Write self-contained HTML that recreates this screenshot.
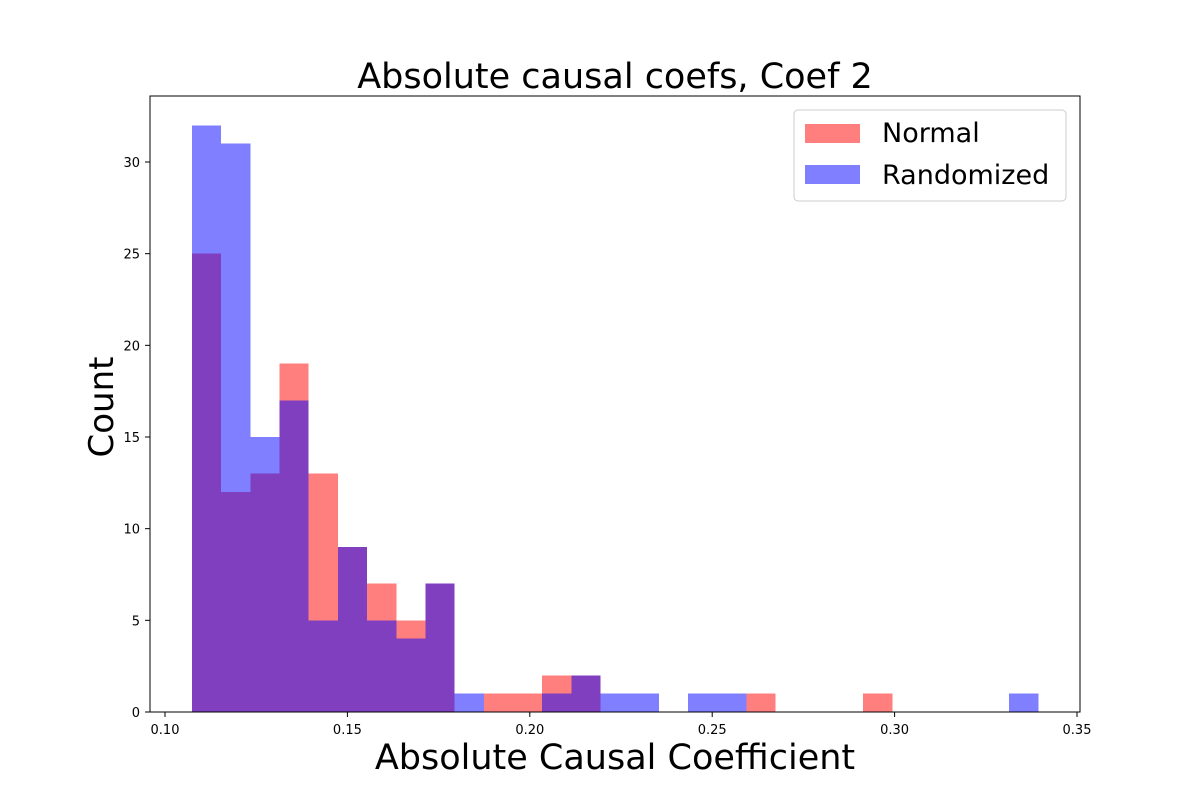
<!DOCTYPE html>
<html><head><meta charset="utf-8"><style>
body{margin:0;background:#fff}
svg{font-family:"DejaVu Sans","Liberation Sans",sans-serif}
</style></head><body>
<svg id="chart" width="1200" height="800" xmlns="http://www.w3.org/2000/svg">
<rect width="1200" height="800" fill="#fff"/>
<text x="615" y="88" font-size="35" text-anchor="middle">Absolute causal coefs, Coef 2</text>
<g id="bars" shape-rendering="crispEdges"></g>
<rect x="150" y="96" width="930" height="616" fill="none" stroke="#000" stroke-width="1"/>
<g id="ticks"></g>
<text x="615" y="769" font-size="35" text-anchor="middle">Absolute Causal Coefficient</text>
<text transform="translate(113,407) rotate(-90)" font-size="34" text-anchor="middle">Count</text>
<g>
<rect x="794" y="110" width="272" height="91" rx="4" fill="#fff" fill-opacity="0.8" stroke="#ccc"/>
<g>
<rect x="805" y="124" width="55" height="19" fill="#ff0000" fill-opacity="0.5"/>
<text x="882" y="142" font-size="27">Normal</text></g>
<g>
<rect x="805" y="165" width="55" height="19" fill="#0000ff" fill-opacity="0.5"/>
<text x="882" y="184" font-size="27">Randomized</text></g>
</g>
</svg>
<script>
const binStart = 0.1074;
const binWidth = 0.00800;
const normalCounts = [25,12,13,19,13,9,7,5,7,0,1,1,2,2,0,0,0,0,0,1,0,0,0,1,0,0,0,0,0];
const randomizedCounts = [32,31,15,17,5,9,5,4,7,1,0,0,1,2,1,1,0,1,1,0,0,0,0,0,0,0,0,0,1];
const xTicks = [0.10,0.15,0.20,0.25,0.30,0.35];
const xTickLabels = ["0.10","0.15","0.20","0.25","0.30","0.35"];
const yTicks = [0,5,10,15,20,25,30];

const NS = "http://www.w3.org/2000/svg";
const xs = v => 165 + (v - 0.10) * 3648;
const ys = v => 712 - v * (550 / 30);
const bars = document.getElementById('bars');
function drawSeries(counts, color, name) {
  counts.forEach((c, i) => {
    if (!c) return;
    const x0 = xs(binStart + i * binWidth), x1 = xs(binStart + (i + 1) * binWidth);
    const r = document.createElementNS(NS, 'rect');
    r.setAttribute('x', x0); r.setAttribute('width', x1 - x0);
    r.setAttribute('y', ys(c)); r.setAttribute('height', ys(0) - ys(c));
    r.setAttribute('fill', color); r.setAttribute('fill-opacity', '0.5');
    
    
    bars.appendChild(r);
  });
}
drawSeries(normalCounts, '#ff0000', 'normal');
drawSeries(randomizedCounts, '#0000ff', 'randomized');

const ticks = document.getElementById('ticks');
xTicks.forEach((t, i) => {
  const x = xs(t);
  const l = document.createElementNS(NS, 'line');
  l.setAttribute('x1', x); l.setAttribute('x2', x); l.setAttribute('y1', 712); l.setAttribute('y2', 717);
  l.setAttribute('stroke', '#000');
  
  
  ticks.appendChild(l);
  const tx = document.createElementNS(NS, 'text');
  tx.setAttribute('x', x); tx.setAttribute('y', 734); tx.setAttribute('font-size', '13');
  tx.setAttribute('text-anchor', 'middle'); tx.textContent = xTickLabels[i];
  
  
  ticks.appendChild(tx);
});
yTicks.forEach(t => {
  const y = ys(t);
  const l = document.createElementNS(NS, 'line');
  l.setAttribute('x1', 145); l.setAttribute('x2', 150); l.setAttribute('y1', y); l.setAttribute('y2', y);
  l.setAttribute('stroke', '#000');
  
  
  ticks.appendChild(l);
  const tx = document.createElementNS(NS, 'text');
  tx.setAttribute('x', 140); tx.setAttribute('y', y + 5); tx.setAttribute('font-size', '13');
  tx.setAttribute('text-anchor', 'end'); tx.textContent = String(t);
  
  
  ticks.appendChild(tx);
});
</script>
</body></html>
